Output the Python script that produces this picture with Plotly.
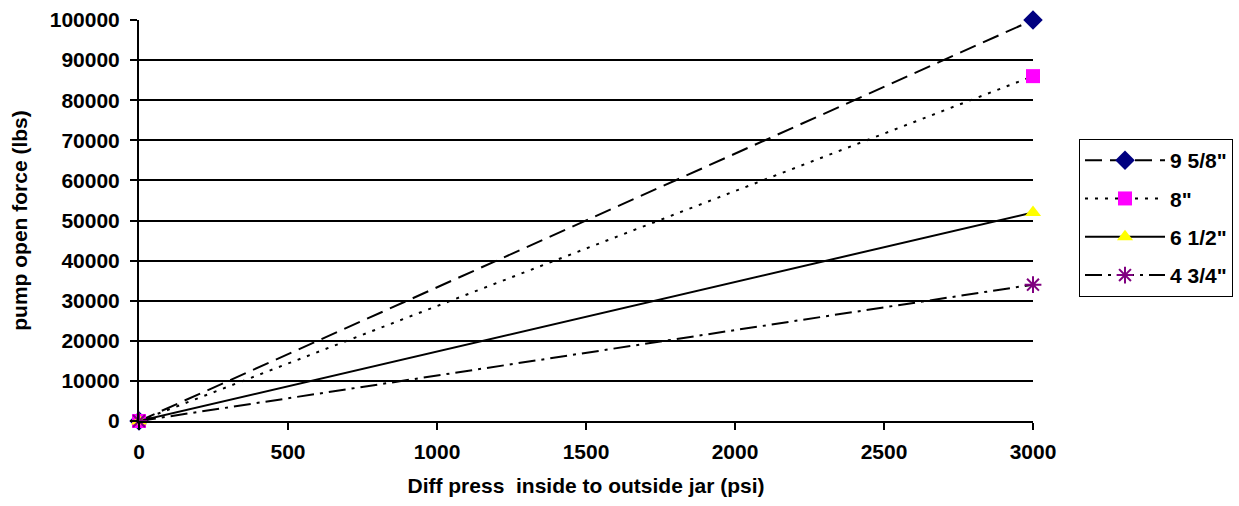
import plotly.graph_objects as go

pressure = [0, 3000]
series_names = ['9 5/8"', '8"', '6 1/2"', '4 3/4"']
force_9_58 = [0, 100000]
force_8 = [0, 86000]
force_6_12 = [0, 52000]
force_4_34 = [0, 34000]
x_ticks = [0, 500, 1000, 1500, 2000, 2500, 3000]
y_ticks = [0, 10000, 20000, 30000, 40000, 50000, 60000, 70000, 80000, 90000, 100000]

FONT = "Liberation Sans, Arial, sans-serif"
FS = 21

styles = [
    dict(dash="17px,8px", symbol="diamond", color="#000080", size=15, lw=0),
    dict(dash="3px,7px", symbol="square", color="#FF00FF", size=14, lw=0),
    dict(dash="solid", symbol="triangle-up", color="#FFFF00", size=14, lw=0),
    dict(dash="17px,6px,3px,6px", symbol="asterisk-open", color="#800080", size=14, lw=2),
]
values = [force_9_58, force_8, force_6_12, force_4_34]

fig = go.Figure()
for i, (name, vals, st) in enumerate(zip(series_names, values, styles)):
    fig.add_trace(go.Scatter(
        x=pressure, y=vals, name=name, mode="lines+markers",
        legendgroup=f"g{i}",
        line=dict(color="black", width=2, dash=st["dash"]),
        marker=dict(symbol=st["symbol"], color=st["color"], size=st["size"],
                    line=dict(color=st["color"], width=st["lw"])),
        cliponaxis=False,
    ))

fig.update_layout(
    width=1239, height=506,
    margin=dict(l=139, r=206, t=20, b=85, autoexpand=False),
    paper_bgcolor="white", plot_bgcolor="white",
    font=dict(family=FONT, color="black", size=FS, weight="bold"),
    showlegend=True,
    legend=dict(
        x=(1079 - 139) / 894, y=1 - (139 - 20) / 401,
        xanchor="left", yanchor="top",
        bordercolor="black", borderwidth=1, bgcolor="white",
        font=dict(family=FONT, size=FS, color="black", weight="bold"),
        tracegroupgap=8, traceorder="grouped", itemwidth=80,
    ),
    xaxis=dict(
        range=[0, 3000], tickvals=x_ticks, ticktext=[str(v) for v in x_ticks],
        showgrid=False, zeroline=False,
        showline=True, linecolor="black", linewidth=2,
        ticks="outside", ticklen=7, tickwidth=2, tickcolor="black",
        ticklabelstandoff=4,
        tickfont=dict(family=FONT, size=FS, color="black", weight="bold"),
        title=dict(text="Diff press\u00a0 inside to outside jar (psi)",
                   font=dict(family=FONT, size=FS, color="black", weight="bold"),
                   standoff=16),
    ),
    yaxis=dict(
        range=[0, 100000], tickvals=y_ticks, ticktext=[str(v) for v in y_ticks],
        showgrid=True, gridcolor="black", gridwidth=2, zeroline=False,
        showline=True, linecolor="black", linewidth=2,
        ticks="outside", ticklen=7, tickwidth=2, tickcolor="black",
        ticklabelstandoff=6,
        tickfont=dict(family=FONT, size=FS, color="black", weight="bold"),
        title=dict(text="pump open force (lbs)",
                   font=dict(family=FONT, size=FS, color="black", weight="bold"),
                   standoff=16),
    ),
)

fig.write_html("out.html")
